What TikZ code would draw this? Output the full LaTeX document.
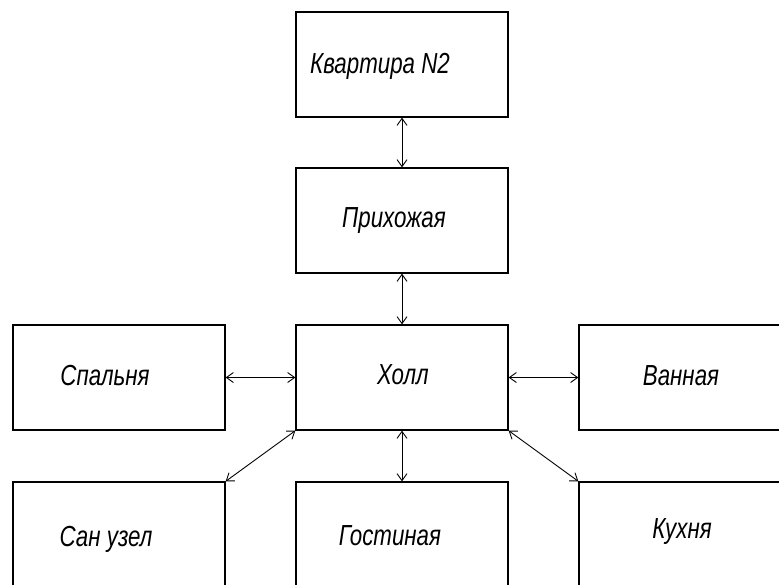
\documentclass[tikz,border=0pt]{standalone}
\usepackage{fontspec}
\setmainfont{Liberation Sans}
\usetikzlibrary{arrows.meta}
\begin{document}
\begin{tikzpicture}[x=1pt,y=-1pt,
  room/.style={draw=black,line width=1.3pt,minimum width=212pt,minimum height=105pt,inner sep=0pt},
  lbl/.style={font=\fontsize{29}{31}\selectfont\itshape,xscale=0.77,inner sep=0pt,anchor=base},
  link/.style={line width=0.9pt,{Straight Barb[length=7pt,width=10pt]}-{Straight Barb[length=7pt,width=10pt]}}]
\useasboundingbox (0,0) rectangle (779,584);
\clip (0,0) rectangle (779,584);
\node[room] (kv) at (402,64.5) {};
\node[room] (pr) at (402,220.5) {};
\node[room] (ho) at (402,377.5) {};
\node[room] (sp) at (119,377.5) {};
\node[room] (va) at (685,377.5) {};
\node[room] (su) at (119,534.5) {};
\node[room] (go) at (402,534.5) {};
\node[room] (ku) at (685,534.5) {};
\node[lbl] (tkv) at (380,73) {Квартира N2};
\node[lbl] (tpr) at (394,227) {Прихожая};
\node[lbl] (tho) at (403,384) {Холл};
\node[lbl] (tsp) at (105,385) {Спальня};
\node[lbl] (tva) at (681,385) {Ванная};
\node[lbl] (tsu) at (106,546) {Сан узел};
\node[lbl] (tgo) at (390,545) {Гостиная};
\node[lbl] (tku) at (682,538) {Кухня};
\draw[link] (kv.south) -- (pr.north);
\draw[link] (pr.south) -- (ho.north);
\draw[link] (ho.south) -- (go.north);
\draw[link] (sp.east) -- (ho.west);
\draw[link] (ho.east) -- (va.west);
\draw[link] (ho.south west) -- (su.north east);
\draw[link] (ho.south east) -- (ku.north west);
\end{tikzpicture}
\end{document}
